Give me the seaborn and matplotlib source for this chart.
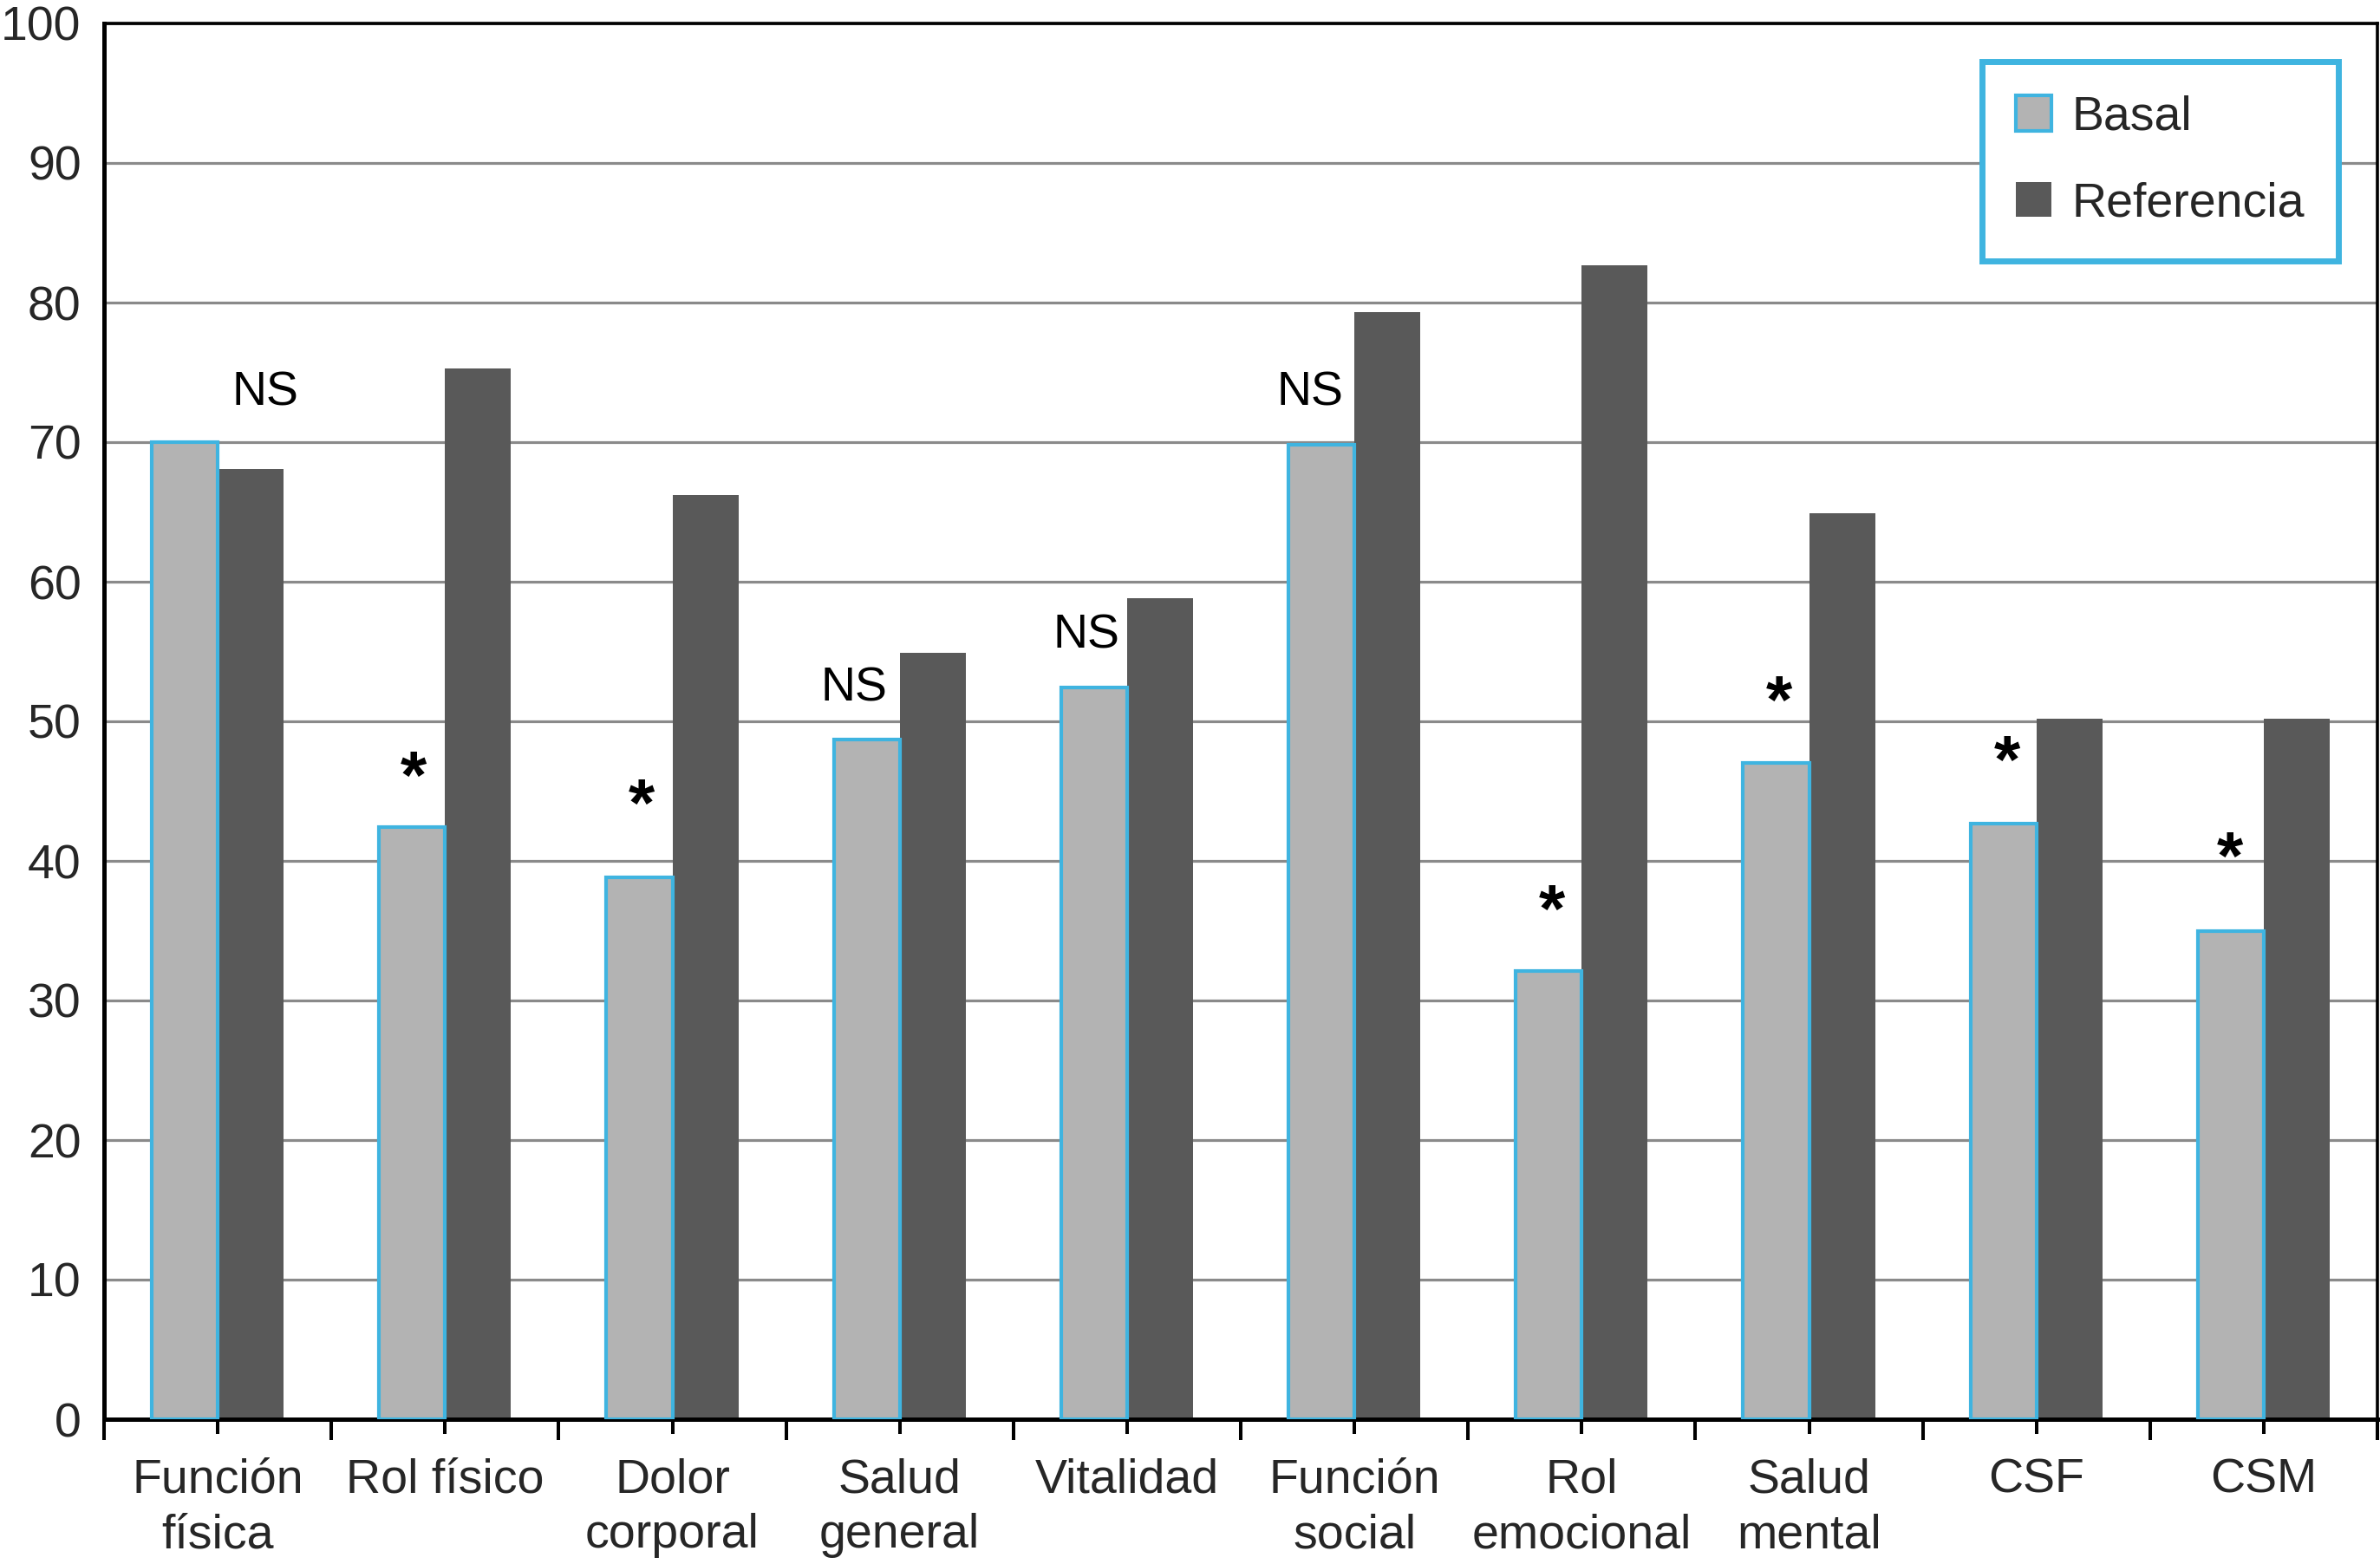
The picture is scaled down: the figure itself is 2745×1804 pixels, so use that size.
import matplotlib
matplotlib.use("Agg")
import matplotlib.pyplot as plt
import seaborn as sns
import pandas as pd
import numpy as np
from matplotlib.ticker import FixedLocator
from matplotlib.patches import Patch

# ---- data ----
categories = ["Función\nfísica", "Rol físico", "Dolor\ncorporal", "Salud\ngeneral",
              "Vitalidad", "Función\nsocial", "Rol\nemocional", "Salud\nmental",
              "CSF", "CSM"]
basal = [70.0, 42.4, 38.8, 48.7, 52.4, 69.8, 32.1, 47.0, 42.7, 35.0]
referencia = [68.1, 75.3, 66.2, 54.9, 58.8, 79.3, 82.7, 64.9, 50.2, 50.2]
series_names = ["Basal", "Referencia"]
annot_text = ["NS", "*", "*", "NS", "NS", "NS", "*", "*", "*", "*"]
annot_y = [73.9, 47.3, 45.3, 52.7, 56.5, 73.9, 37.7, 52.7, 48.4, 41.5]
annot_dx = [0.21, -0.14, -0.135, -0.2, -0.18, -0.195, -0.13, -0.13, -0.13, -0.15]
yticks = list(range(0, 101, 10))

df = pd.DataFrame({
    "cat": categories * 2,
    "serie": [series_names[0]] * len(categories) + [series_names[1]] * len(categories),
    "valor": basal + referencia,
})

sns.set_style("white")
plt.rcParams['font.family'] = ['Liberation Sans', 'DejaVu Sans']
FS = 40
STAR_FS = 56
CYAN = "#3fb4e0"

W, H = 2745, 1804
fig = plt.figure(figsize=(W / 100, H / 100), dpi=100)
ax = fig.add_axes([120 / W, 1 - 1637 / H, (2742 - 120) / W, (1637 - 27) / H])

sns.barplot(data=df, x="cat", y="valor", hue="serie", order=categories,
            hue_order=series_names, palette=["#b3b3b3", "#595959"],
            width=0.58, saturation=1, ax=ax, legend=False)

for bar in ax.containers[0]:
    bar.set_edgecolor(CYAN)
    bar.set_linewidth(3)
    bar.set_zorder(3)
for bar in ax.containers[1]:
    bar.set_edgecolor("none")
    bar.set_linewidth(0)
    bar.set_zorder(2)

ax.set_xlim(-0.5, len(categories) - 0.5)
ax.set_ylim(0, 100)
ax.set_yticks(yticks)
ax.set_xlabel("")
ax.set_ylabel("")
ax.set_axisbelow(True)
ax.yaxis.grid(True, color="#8a8a8a", linewidth=2.3)
ax.xaxis.grid(False)

for side in ["left", "bottom"]:
    ax.spines[side].set_linewidth(3.6)
    ax.spines[side].set_color("black")
for side in ["top", "right"]:
    ax.spines[side].set_linewidth(2.6)
    ax.spines[side].set_color("black")
    ax.spines[side].set_visible(True)

ax.tick_params(axis="y", length=0, pad=19, labelsize=FS)
ax.tick_params(axis="x", which="major", direction="out", length=12, width=2.9,
               pad=20, labelsize=FS, bottom=True, color="black")
ax.xaxis.set_minor_locator(FixedLocator(np.arange(-0.5, len(categories), 1.0)))
ax.tick_params(axis="x", which="minor", direction="out", length=17, width=2.9,
               bottom=True, color="black")
for lbl in ax.get_xticklabels():
    lbl.set_multialignment("center")
    lbl.set_linespacing(1.3)

# significance annotations
for i, (t, yv, dx) in enumerate(zip(annot_text, annot_y, annot_dx)):
    if t == "NS":
        ax.annotate(t, xy=(i + dx, yv), xytext=(0, -0.358 * FS), textcoords="offset points",
                    ha="center", va="baseline", fontsize=FS, color="black", zorder=5)
    else:
        ax.annotate(t, xy=(i + dx, yv), xytext=(0, -0.58 * STAR_FS), textcoords="offset points",
                    ha="center", va="baseline", fontsize=STAR_FS, fontweight="bold",
                    color="black", zorder=5)

# legend
handles = [Patch(facecolor="#b3b3b3", edgecolor=CYAN, linewidth=3),
           Patch(facecolor="#595959", edgecolor="none")]
leg = fig.legend(handles, series_names, loc="upper right",
                 bbox_to_anchor=(2697 / W, 1 - 71 / H), fontsize=FS,
                 frameon=True, fancybox=False, framealpha=1, borderaxespad=0,
                 handlelength=0.74, handleheight=0.74, handletextpad=0.42,
                 borderpad=0.7, labelspacing=0.86)
leg.get_frame().set_edgecolor(CYAN)
leg.get_frame().set_linewidth(5)

fig.savefig("out.png", dpi=100, facecolor="white")
